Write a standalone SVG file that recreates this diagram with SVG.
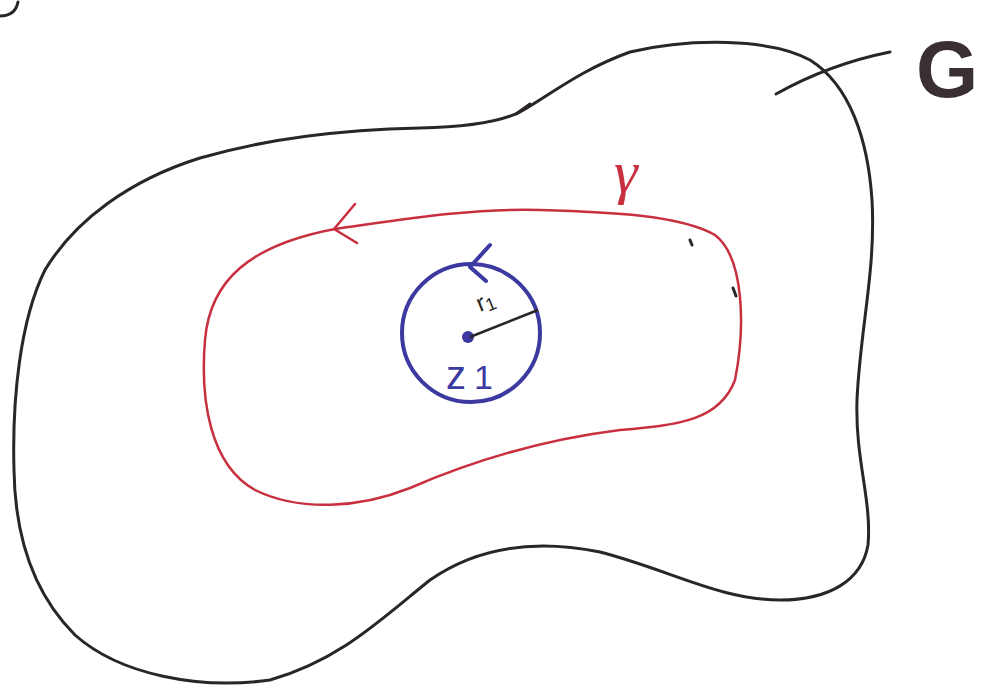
<svg xmlns="http://www.w3.org/2000/svg" width="996" height="685" viewBox="0 0 996 685">
<style>
.blk{fill:none;stroke:#2a2526;stroke-width:3;stroke-linecap:round;stroke-linejoin:round}
.red{fill:none;stroke:#c8303f;stroke-width:2.5;stroke-linecap:round;stroke-linejoin:round}
.blue{fill:none;stroke:#3c3aa0;stroke-width:4;stroke-linecap:round;stroke-linejoin:round}
.lbl{font-family:"Liberation Sans",Arial,sans-serif}
</style>
<rect width="996" height="685" fill="#ffffff"/>
<path class="blk" d="M18,2 C16,12 10,16 0,16"/>
<g id="region-G">
<path class="blk" d="M520,112 C550,95 580,70 630,52 C690,38 770,38 810,60 C850,85 868,140 872,200 C876,270 860,330 857,400 C855,460 872,500 868,545 C862,580 830,600 780,600 C720,600 670,570 600,552 C540,540 480,545 430,580 C380,620 340,660 270,680 C200,690 120,675 75,635 C35,595 15,540 14,470 C12,400 20,320 45,270 C75,220 130,180 200,158 C270,138 340,130 420,128 C470,127 500,122 520,112 Z"/>
<path class="blk" d="M516,114 L530,104"/>
<path class="blk" d="M776,94 C810,75 850,60 890,52"/>
<text class="lbl" x="916" y="97" font-size="80" font-weight="bold" fill="#3a3031">G</text>
</g>
<g id="curve-gamma">
<path class="red" d="M335,229 C400,220 470,208 540,210 C610,212 680,215 715,235 C745,258 745,330 735,380 C720,420 680,425 620,430 C540,440 470,462 410,488 C360,508 300,512 255,490 C210,465 200,400 205,340 C210,280 250,245 335,229"/>
<path class="red" d="M355,204 L334,229 L357,243" stroke-width="3.5"/>
<path class="blk" d="M690,240 L692,245 M733,288 L736,296" stroke-width="2"/>
<text x="614" y="192" font-size="60" font-style="italic" font-family="Liberation Serif,serif" fill="#c8303f">γ</text>
</g>
<g id="circle-z1">
<circle class="blue" cx="471" cy="333" r="69"/>
<path class="blue" d="M490,245 L470,267 L486,281" stroke-width="3.5"/>
<circle cx="468" cy="337" r="6" fill="#3c3aa0"/>
<path d="M470,337 L538,310" stroke="#2a2526" stroke-width="2.5" fill="none"/>
<text class="lbl" x="480" y="312" font-size="24" fill="#2a2526" transform="rotate(-22 480 312)">r<tspan font-size="18" dy="3">1</tspan></text>
<text class="lbl" x="446" y="389" font-size="40" fill="#3c3aa0">z<tspan font-size="34" dx="8">1</tspan></text>
</g>
</svg>
